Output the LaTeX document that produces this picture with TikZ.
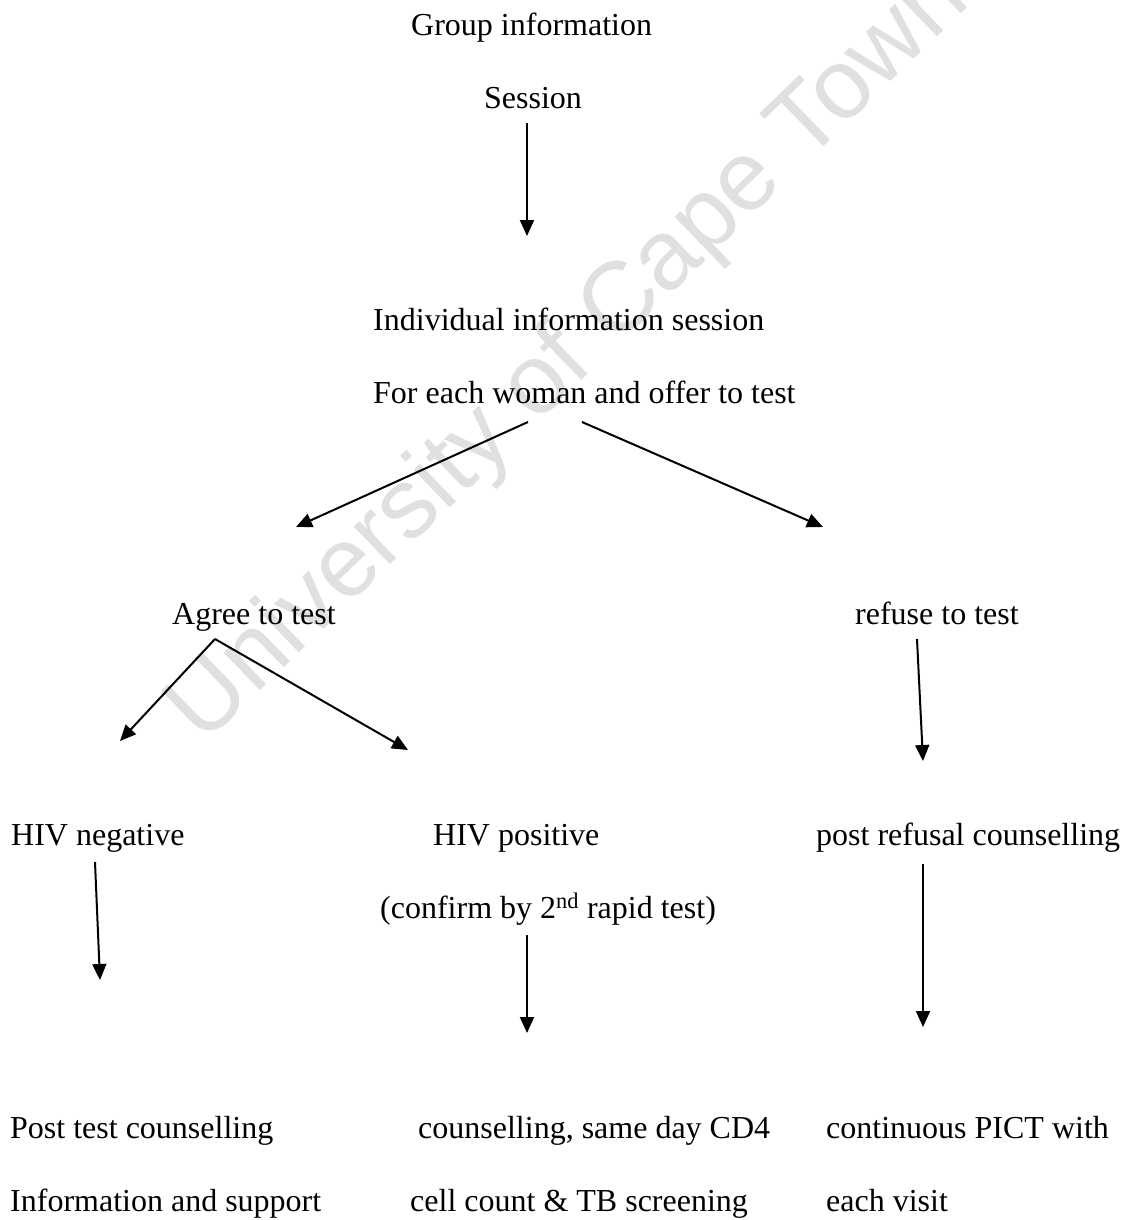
\documentclass[tikz,border=0pt]{standalone}
\usepackage{fontspec}
\setmainfont{Liberation Serif}
\newfontfamily\wmfont{Liberation Sans}
\usetikzlibrary{arrows.meta}
\begin{document}
\begin{tikzpicture}[x=1pt,y=-1pt,
  lbl/.style={inner sep=0pt, anchor=base west, font=\fontsize{32}{38}\selectfont},
  arr/.style={line width=2pt, -{Triangle[length=16pt,width=14pt]}},
  wm/.style={inner sep=0pt, text=black!12, font=\wmfont\fontsize{99}{110}\selectfont}]
\useasboundingbox (0,0) rectangle (1126,1220);
\clip (0,0) rectangle (1126,1220);
\node[wm, rotate=44] (wm) at (570,356) {University of Cape Town};

\node[lbl] (gi) at (411,35.6) {Group information};
\node[lbl] (se) at (484,109) {Session};
\node[lbl] (ii) at (373,330) {Individual information session};
\node[lbl] (fe) at (373,403) {For each woman and offer to test};
\node[lbl] (ag) at (172,624) {Agree to test};
\node[lbl] (rf) at (855,624) {refuse to test};
\node[lbl] (hn) at (11,845) {HIV negative};
\node[lbl] (hp) at (433,845) {HIV positive};
\node[lbl] (pr) at (816,845) {post refusal counselling};
\node[lbl] (cf) at (380,918) {(confirm by 2\textsuperscript{nd} rapid test)};
\node[lbl] (b1) at (10,1138) {Post test counselling};
\node[lbl] (b2) at (10,1211) {Information and support};
\node[lbl] (b3) at (418,1138) {counselling, same day CD4};
\node[lbl] (b4) at (410,1211) {cell count \& TB screening};
\node[lbl] (b5) at (826,1138) {continuous PICT with};
\node[lbl] (b6) at (826,1211) {each visit};

\coordinate (s1) at (527,123);  \coordinate (e1) at (527,236);
\coordinate (s2) at (528,422);  \coordinate (e2) at (296,527);
\coordinate (s3) at (582,422);  \coordinate (e3) at (823,527);
\coordinate (s4) at (215,639);  \coordinate (e4) at (120,741);
\coordinate (e5) at (408,750);
\coordinate (s6) at (917,639);  \coordinate (e6) at (923,761);
\coordinate (s7) at (95,862);   \coordinate (e7) at (100,980);
\coordinate (s8) at (527,935);  \coordinate (e8) at (527,1033);
\coordinate (s9) at (923,864);  \coordinate (e9) at (923,1027);

\draw[arr] (s1) -- (e1);
\draw[arr] (s2) -- (e2);
\draw[arr] (s3) -- (e3);
\draw[arr] (s4) -- (e4);
\draw[arr] (s4) -- (e5);
\draw[arr] (s6) -- (e6);
\draw[arr] (s7) -- (e7);
\draw[arr] (s8) -- (e8);
\draw[arr] (s9) -- (e9);
\end{tikzpicture}
\end{document}
